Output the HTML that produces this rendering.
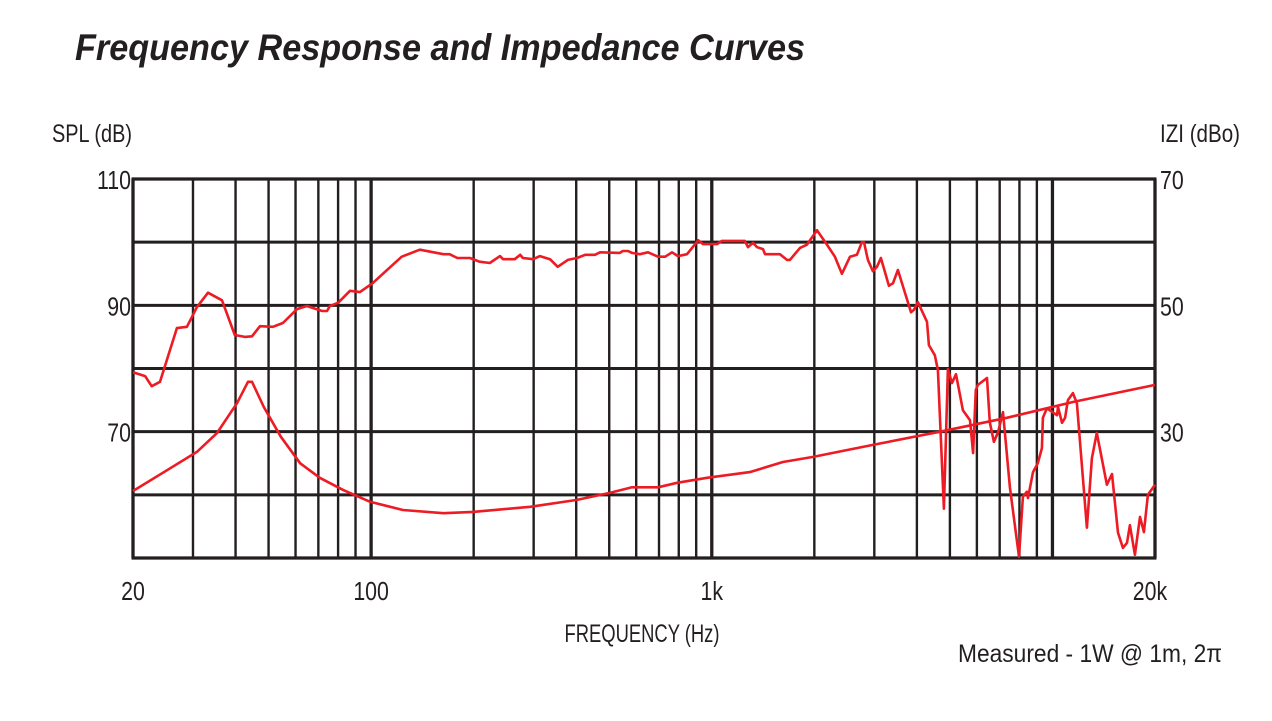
<!DOCTYPE html>
<html><head><meta charset="utf-8"><style>
html,body{margin:0;padding:0;background:#fff;}
svg{display:block;font-family:"Liberation Sans Narrow","Liberation Sans",sans-serif;}
</style></head><body>
<svg id="chart" width="1272" height="721" viewBox="0 0 1272 721">
<text x="75" y="60" font-size="37" font-weight="bold" font-style="italic" textLength="730" lengthAdjust="spacingAndGlyphs" fill="#231f20">Frequency Response and Impedance Curves</text>
<text x="52" y="142" font-size="25" textLength="80" lengthAdjust="spacingAndGlyphs" fill="#231f20">SPL (dB)</text>
<text x="1160" y="142" font-size="25" textLength="80" lengthAdjust="spacingAndGlyphs" fill="#231f20">IZI (dBo)</text>
<g id="grid"></g>
<g id="ticks"></g>
<path id="imp" fill="none" stroke="#ed1c24" stroke-width="2.6" stroke-linejoin="round"></path>
<path id="spl" fill="none" stroke="#ed1c24" stroke-width="2.6" stroke-linejoin="round"></path>
<text x="642" y="642" font-size="25" text-anchor="middle" textLength="155" lengthAdjust="spacingAndGlyphs" fill="#231f20">FREQUENCY (Hz)</text>
<text x="958" y="662" font-size="25" textLength="264" lengthAdjust="spacingAndGlyphs" fill="#231f20">Measured - 1W @ 1m, 2π</text>
</svg>
<script>
const splFreq=[20,21.7,22.7,24,26.9,28.8,30.8,33.2,36.5,39.8,42.6,44.7,47.2,51.5,55.1,60.6,64.8,71.8,74.2,75.7,80,86.7,92.7,101,123,139,163,170,179,195,208,223,239,244,264,274,279,299,313,335,353,378,402,425,454,470,537,548,568,583,615,650,695,730,764,796,846,912,943,1036,1071,1250,1277,1321,1358,1414,1433,1585,1663,1695,1815,1902,2036,2179,2299,2410,2545,2667,2759,2797,2873,2972,3055,3136,3311,3404,3518,3845,3921,4027,4283,4337,4516,4612,4800,4934,5071,5211,5460,5728,5847,5957,6040,6425,6549,6731,6919,7160,7500,7976,8190,8415,8475,8770,9060,9310,9375,9635,10310,10380,10670,10890,11100,11480,11800,12620,13060,13500,14450,14960,15570,16100,16550,16880,17460,18070,18550,19060,20000];
const splDb=[79.4,78.8,77.2,77.9,86.4,86.6,89.7,92.0,90.8,85.3,85.0,85.1,86.7,86.6,87.2,89.4,89.9,89.1,89.1,89.9,90.4,92.3,92.1,93.5,97.7,98.8,98.1,98.1,97.5,97.5,96.9,96.7,97.8,97.3,97.3,98.0,97.5,97.3,97.8,97.3,96.1,97.2,97.5,98.0,98.0,98.4,98.3,98.6,98.6,98.3,98.1,98.4,97.7,97.7,98.4,97.8,98.1,100.3,99.7,99.7,100.2,100.2,99.2,99.9,99.2,98.9,98.1,98.1,97.2,97.2,99.1,99.6,101.9,99.6,97.7,95.0,97.7,98.0,100.0,100.0,97.2,95.4,96.1,97.5,93.1,93.5,95.6,88.9,89.3,90.5,87.4,83.7,82.1,79.8,57.8,79.9,77.7,79.1,73.4,71.8,66.6,76.6,77.4,78.5,71.5,68.4,69.9,73.1,61.2,50.2,59.7,60.5,59.5,63.6,65.0,67.4,72.2,73.7,72.6,73.9,71.4,72.2,75.0,76.1,74.5,54.8,65.8,69.8,61.6,63.3,54.0,51.6,52.4,55.2,50.5,56.5,54.1,60.0,61.6];
const impFreq=[20,24.5,30.8,35.3,40.4,43.5,44.7,48.4,54.3,61.9,70.7,82.6,99.3,124,163,199,293,402,502,583,695,791,968,1294,1617,1983,2972,4676,7345,11480,20000];
const impDb=[20.6,23.5,26.8,29.8,34.5,37.9,37.9,33.9,29.2,25.0,22.7,20.8,18.9,17.6,17.1,17.3,18.1,19.2,20.3,21.2,21.2,21.9,22.7,23.6,25.2,26.0,27.9,30.0,32.2,34.7,37.4];
const leftTicks=[110,90,70];
const rightTicks=[70,50,30];
const xTickVals=[20,100,1000,20000];
const xTickLabels=["20","100","1k","20k"];

const X0=133,X1=1155,Y0=179,Y1=558;
function xs(f){return X0+(Math.log10(f)-Math.log10(20))/3*(X1-X0);}
function yl(d){return Y1-(d-50)/60*(Y1-Y0);}
function yr(d){return Y1-(d-10)/60*(Y1-Y0);}
const NS="http://www.w3.org/2000/svg";
const grid=document.getElementById('grid');
function line(x1,y1,x2,y2,w,name){
  const l=document.createElementNS(NS,'line');
  l.setAttribute('x1',x1);l.setAttribute('y1',y1);l.setAttribute('x2',x2);l.setAttribute('y2',y2);
  l.setAttribute('stroke','#231f20');l.setAttribute('stroke-width',w);
  
  
  grid.appendChild(l);
}
for(let d=50;d<=110;d+=10){line(X0-1.5,yl(d),X1+1.5,yl(d),(d==50||d==110)?3.2:3,'h-gridline');}
[20,30,40,50,60,70,80,90,100,200,300,400,500,600,700,800,900,1000,2000,3000,4000,5000,6000,7000,8000,9000,10000,20000].forEach(f=>{
  const dec=(f==100||f==1000||f==10000||f==20||f==20000);
  line(xs(f),Y0,xs(f),Y1,dec?3.3:2.4,'v-gridline');
});
const tk=document.getElementById('ticks');
function txt(x,y,s,anchor,name){
  const t=document.createElementNS(NS,'text');
  t.setAttribute('x',x);t.setAttribute('y',y);t.setAttribute('font-size','26');
  t.setAttribute('text-anchor',anchor);t.setAttribute('fill','#231f20');
  t.setAttribute('transform','translate('+x+' 0) scale(0.82 1) translate('+(-x)+' 0)');
  t.textContent=s;
  
  
  tk.appendChild(t);
}
leftTicks.forEach(v=>txt(131,yl(v)+10,String(v),'end','left-tick-label'));
rightTicks.forEach(v=>txt(1160,yr(v)+10,String(v),'start','right-tick-label'));
xTickVals.forEach((v,i)=>{let x=xs(v);if(i==0)x+=0;if(i==3)x-=5;txt(x,600,xTickLabels[i],'middle','x-tick-label');});
function path(fr,db,ys){return fr.map((f,i)=>(i?'L':'M')+xs(f).toFixed(1)+','+ys(db[i]).toFixed(1)).join(' ');}
document.getElementById('spl').setAttribute('d',path(splFreq,splDb,yl));
document.getElementById('imp').setAttribute('d',path(impFreq,impDb,yr));
</script>
</body></html>
